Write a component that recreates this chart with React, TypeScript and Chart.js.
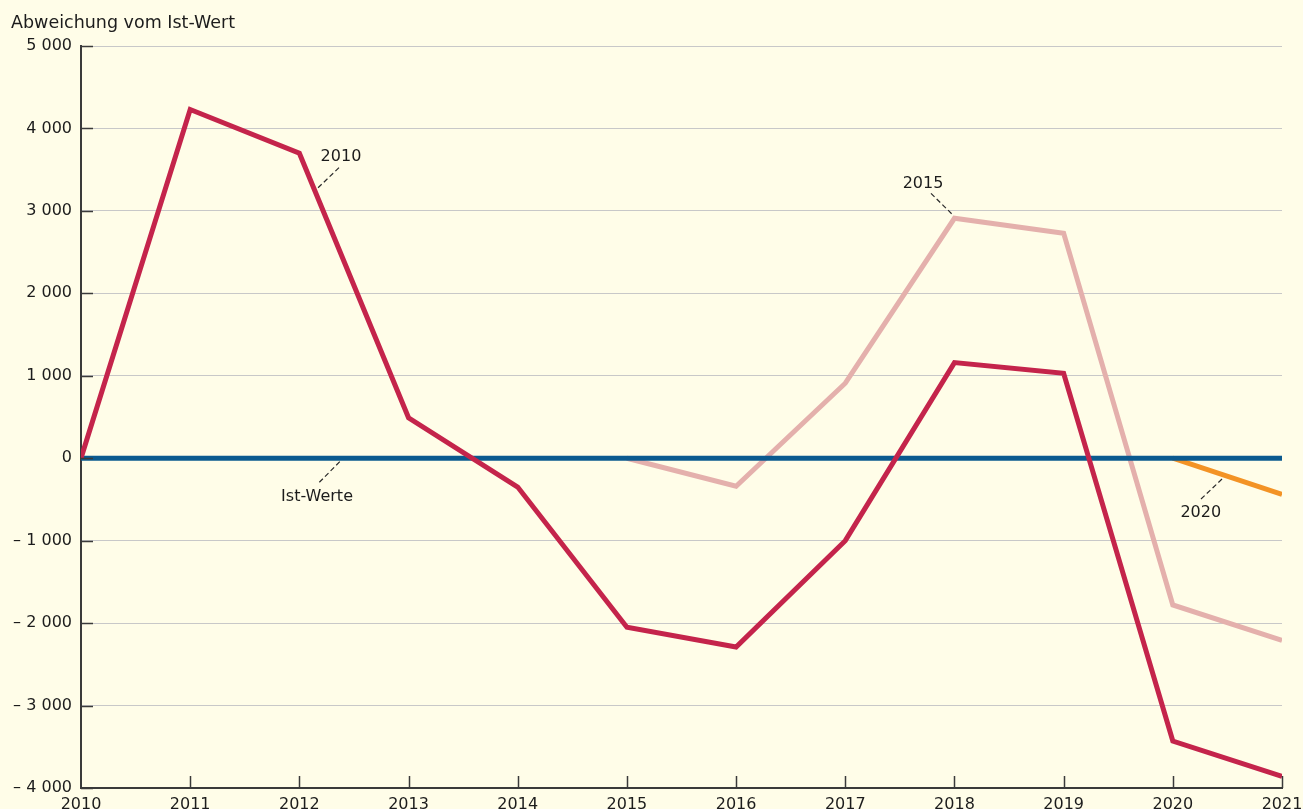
import React, { useEffect, useRef } from "react";
import { Chart, registerables } from "chart.js";

Chart.register(...registerables);

// ---- Data ----
const years = [2010, 2011, 2012, 2013, 2014, 2015, 2016, 2017, 2018, 2019, 2020, 2021];
const prognose2010 = [0, 4230, 3700, 490, -350, -2050, -2290, -1000, 1160, 1030, -3430, -3860];
const prognose2015 = [null, null, null, null, null, 0, -340, 910, 2910, 2730, -1780, -2210];
const prognose2020 = [null, null, null, null, null, null, null, null, null, null, 0, -440];
const istWerte = [0, 0, 0, 0, 0, 0, 0, 0, 0, 0, 0, 0];
const yTickValues = [-4000, -3000, -2000, -1000, 0, 1000, 2000, 3000, 4000, 5000];
const axisTitle = "Abweichung vom Ist-Wert";

// Annotation labels (data coordinates): text anchor, leader start, leader end
const annotations = [
  { text: "2010", tx: 2012.381, ty: 3609, x1: 2012.363, y1: 3524, x2: 2012.159, y2: 3265 },
  { text: "Ist-Werte", tx: 2012.162, ty: -519, x1: 2012.183, y1: -292, x2: 2012.379, y2: -30 },
  { text: "2015", tx: 2017.712, ty: 3274, x1: 2017.785, y1: 3213, x2: 2017.98, y2: 2958 },
  { text: "2020", tx: 2020.256, ty: -713, x1: 2020.258, y1: -495, x2: 2020.463, y2: -237 },
];

const BG = "#fffde8";
const TEXT = "#1c1c1c";
const AXIS = "#3a3a3a";
const FONT = "'DejaVu Sans', sans-serif";

const fmt = (v: number) => {
  const a = Math.abs(v);
  const s = String(a).replace(/\B(?=(\d{3})+(?!\d))/g, " ");
  return v < 0 ? "– " + s : s;
};

const toXY = (arr: (number | null)[]) =>
  years.map((y, i) => ({ x: y, y: arr[i] })).filter((p) => p.y !== null);

export default function App() {
  const ref = useRef<HTMLCanvasElement | null>(null);

  useEffect(() => {
    document.body.style.margin = "0";
    document.body.style.overflow = "hidden";
    const canvas = ref.current;
    if (!canvas) return;

    const decorPlugin = {
      id: "decor",
      beforeDraw(chart: any) {
        const ctx = chart.ctx;
        ctx.save();
        ctx.fillStyle = BG;
        ctx.fillRect(0, 0, chart.width, chart.height);
        ctx.fillStyle = TEXT;
        ctx.font = `17.5px ${FONT}`;
        ctx.textAlign = "left";
        ctx.textBaseline = "alphabetic";
        ctx.fillText(axisTitle, 11, 27.5);
        ctx.restore();
      },
      afterDraw(chart: any) {
        const ctx = chart.ctx;
        const xs = chart.scales.x;
        const ys = chart.scales.y;
        const area = chart.chartArea;
        ctx.save();
        // inward tick marks
        ctx.strokeStyle = AXIS;
        ctx.lineWidth = 1.5;
        ctx.setLineDash([]);
        yTickValues.forEach((v) => {
          const py = Math.round(ys.getPixelForValue(v)) + 0.5;
          ctx.beginPath();
          ctx.moveTo(area.left, py);
          ctx.lineTo(area.left + 12, py);
          ctx.stroke();
        });
        years.slice(1).forEach((yr) => {
          const px = Math.round(xs.getPixelForValue(yr)) + 0.5;
          ctx.beginPath();
          ctx.moveTo(px, area.bottom);
          ctx.lineTo(px, area.bottom - 12);
          ctx.stroke();
        });
        // annotations
        ctx.font = `16px ${FONT}`;
        ctx.fillStyle = TEXT;
        ctx.textAlign = "center";
        ctx.textBaseline = "alphabetic";
        annotations.forEach((a) => {
          ctx.fillText(a.text, xs.getPixelForValue(a.tx), ys.getPixelForValue(a.ty));
          ctx.beginPath();
          ctx.strokeStyle = "#2a2a2a";
          ctx.lineWidth = 1.2;
          ctx.setLineDash([5, 3]);
          ctx.moveTo(xs.getPixelForValue(a.x1), ys.getPixelForValue(a.y1));
          ctx.lineTo(xs.getPixelForValue(a.x2), ys.getPixelForValue(a.y2));
          ctx.stroke();
        });
        ctx.restore();
      },
    };

    const common = {
      pointRadius: 0,
      pointHoverRadius: 0,
      borderWidth: 5,
      borderJoinStyle: "miter" as const,
      borderCapStyle: "butt" as const,
      tension: 0,
      fill: false,
      clip: 0,
      spanGaps: false,
    };

    const chart = new Chart(canvas, {
      type: "line",
      data: {
        datasets: [
          { ...common, label: "2010", data: toXY(prognose2010), borderColor: "#c4244b", order: 0 },
          { ...common, label: "Ist-Werte", data: toXY(istWerte), borderColor: "#0b5a8f", order: 1 },
          { ...common, label: "2020", data: toXY(prognose2020), borderColor: "#f39325", order: 2 },
          { ...common, label: "2015", data: toXY(prognose2015), borderColor: "#e4b0ac", order: 3 },
        ],
      },
      options: {
        animation: false,
        responsive: false,
        events: [],
        layout: { padding: { top: 46, right: 21, bottom: 0, left: 0 } },
        plugins: {
          legend: { display: false },
          tooltip: { enabled: false },
          title: { display: false },
        },
        scales: {
          x: {
            type: "linear",
            min: 2010,
            max: 2021,
            afterBuildTicks: (scale: any) => {
              scale.ticks = years.map((v) => ({ value: v }));
            },
            ticks: {
              callback: (v: any) => String(v),
              color: TEXT,
              font: { family: FONT, size: 16 },
              padding: 7,
              maxRotation: 0,
              autoSkip: false,
            },
            grid: { display: false, drawTicks: false },
            border: { display: true, color: AXIS, width: 2 },
            afterFit: (scale: any) => {
              scale.height = 21;
              scale.paddingLeft = 0;
              scale.paddingRight = 0;
            },
          },
          y: {
            type: "linear",
            min: -4000,
            max: 5000,
            afterBuildTicks: (scale: any) => {
              scale.ticks = yTickValues.map((v) => ({ value: v }));
            },
            ticks: {
              callback: (v: any) => fmt(Number(v)),
              color: TEXT,
              font: { family: FONT, size: 16 },
              padding: 9,
              autoSkip: false,
            },
            grid: { display: true, color: "#c8c8c8", lineWidth: 1, drawTicks: false },
            border: { display: true, color: AXIS, width: 2 },
            afterFit: (scale: any) => {
              scale.width = 81;
              scale.paddingTop = 0;
              scale.paddingBottom = 0;
            },
          },
        },
      },
      plugins: [decorPlugin],
    });

    return () => chart.destroy();
  }, []);

  return (
    <div style={{ width: 1303, height: 809 }}>
      <canvas ref={ref} width={1303} height={809} style={{ width: 1303, height: 809, display: "block" }} />
    </div>
  );
}
